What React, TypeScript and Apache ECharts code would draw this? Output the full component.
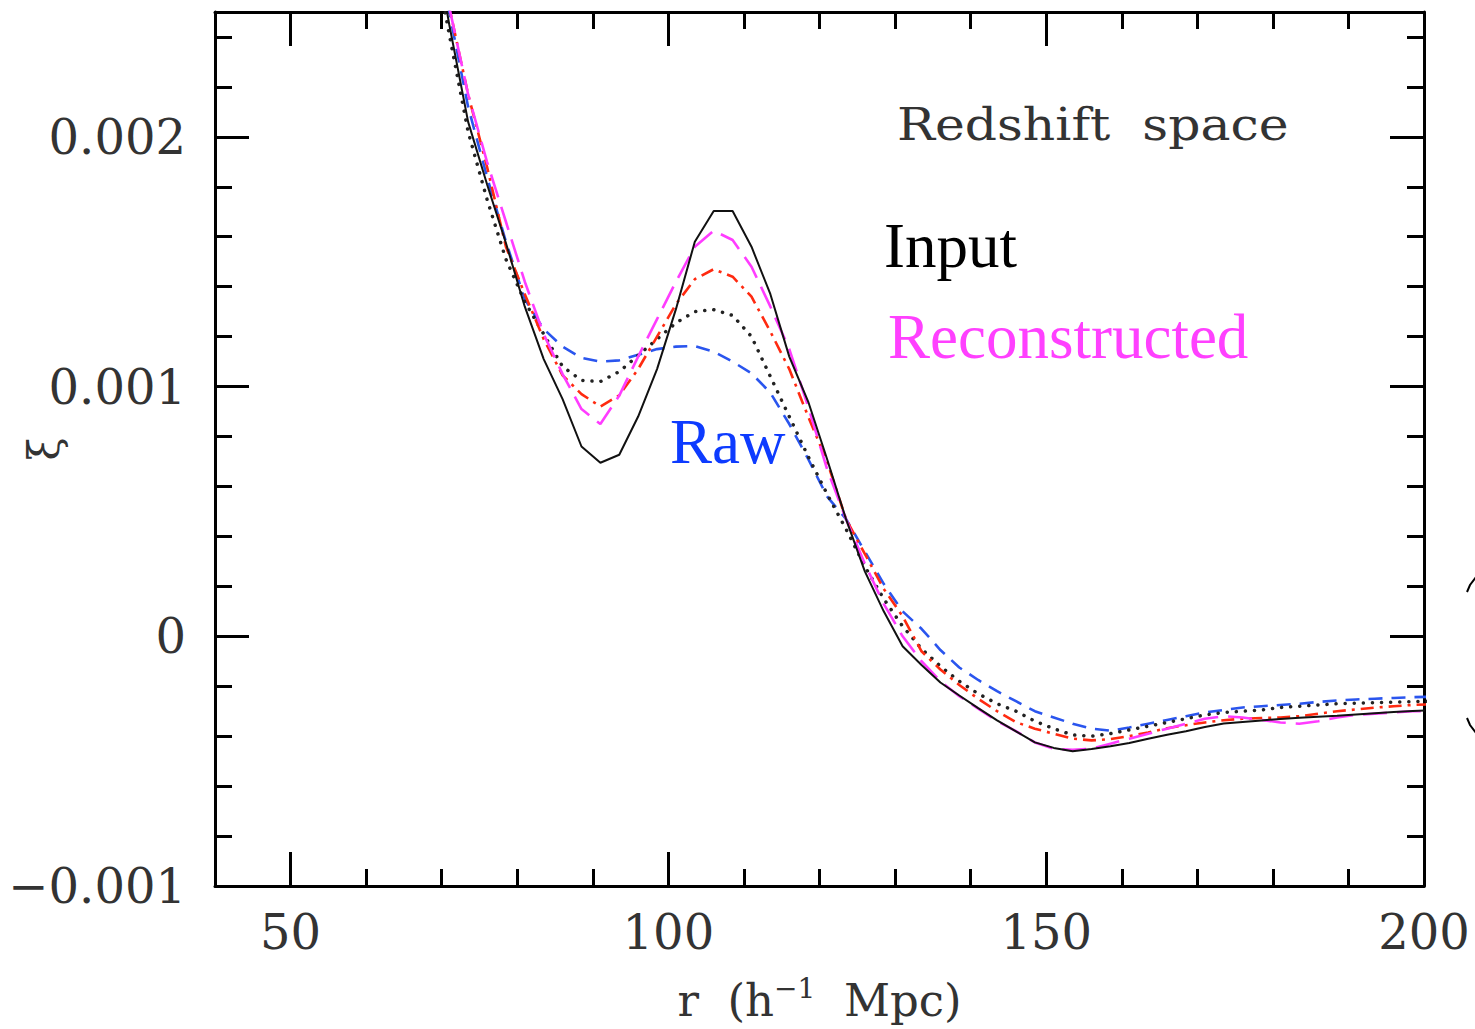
import React, { useEffect, useRef } from "react";
import * as echarts from "echarts";

// separation r (h^-1 Mpc)
const R_VALUES = [
  66, 68.5, 71, 73.5, 76, 78.5, 81, 83.5, 86, 88.5,
  91, 93.5, 96, 98.5, 101, 103.5, 106, 108.5, 111, 113.5,
  116, 118.5, 121, 123.5, 126, 128.5, 131, 133.5, 136, 138.5,
  141, 143.5, 146, 148.5, 151, 153.5, 156, 158.5, 161, 163.5,
  166, 168.5, 171, 173.5, 176, 178.5, 181, 183.5, 186, 188.5,
  191, 193.5, 196, 198.5, 201,
];

// correlation function values, in units of 1e-3
const XI_UNIT = 1e-3;
const INPUT_XI = [
  3.35, 2.88, 2.45, 2.06, 1.81, 1.575, 1.32, 1.11, 0.95, 0.76,
  0.695, 0.727, 0.88, 1.07, 1.31, 1.58, 1.703, 1.703, 1.56, 1.37,
  1.12, 0.94, 0.71, 0.47, 0.26, 0.1, -0.04, -0.115, -0.185, -0.237,
  -0.288, -0.337, -0.381, -0.425, -0.447, -0.46, -0.451, -0.44, -0.427, -0.41,
  -0.394, -0.38, -0.363, -0.349, -0.343, -0.337, -0.331, -0.326, -0.322, -0.318,
  -0.313, -0.308, -0.303, -0.299, -0.296,
];
const RECON_XI = [
  3.45, 2.98, 2.52, 2.17, 1.9, 1.66, 1.42, 1.21, 1.05, 0.91,
  0.85, 0.964, 1.12, 1.27, 1.42, 1.56, 1.624, 1.587, 1.48, 1.32,
  1.15, 0.92, 0.67, 0.47, 0.29, 0.13, 0.0, -0.1, -0.18, -0.24,
  -0.29, -0.34, -0.38, -0.425, -0.45, -0.455, -0.45, -0.43, -0.41, -0.39,
  -0.37, -0.35, -0.33, -0.32, -0.325, -0.335, -0.345, -0.35, -0.34, -0.325,
  -0.315, -0.31, -0.305, -0.3, -0.3,
];
const RECON_ALT_XI = [
  3.45, 2.98, 2.52, 2.17, 1.88, 1.56, 1.37, 1.19, 1.045, 0.97,
  0.92, 0.965, 1.07, 1.2, 1.33, 1.43, 1.47, 1.44, 1.36, 1.22,
  1.07, 0.88, 0.7, 0.47, 0.33, 0.19, 0.08, -0.06, -0.133, -0.195,
  -0.25, -0.3, -0.344, -0.37, -0.39, -0.41, -0.417, -0.412, -0.4, -0.385,
  -0.368, -0.356, -0.345, -0.336, -0.33, -0.327, -0.325, -0.32, -0.31, -0.3,
  -0.293, -0.286, -0.28, -0.275, -0.272,
];
const DOTTED_XI = [
  3.25, 2.82, 2.41, 2.02, 1.75, 1.51, 1.34, 1.21, 1.08, 1.025,
  1.02, 1.06, 1.125, 1.19, 1.255, 1.3, 1.308, 1.285, 1.2, 1.04,
  0.88, 0.72, 0.57, 0.43, 0.28, 0.15, 0.04, -0.05, -0.12, -0.18,
  -0.23, -0.27, -0.3, -0.34, -0.37, -0.395, -0.4, -0.39, -0.375, -0.36,
  -0.345, -0.33, -0.315, -0.305, -0.3, -0.295, -0.285, -0.28, -0.275, -0.27,
  -0.268, -0.266, -0.264, -0.262, -0.26,
];
const RAW_XI = [
  3.35, 2.93, 2.5, 2.12, 1.84, 1.58, 1.35, 1.23, 1.16, 1.115,
  1.1, 1.105, 1.127, 1.15, 1.16, 1.162, 1.14, 1.1, 1.053, 0.975,
  0.85, 0.71, 0.56, 0.47, 0.34, 0.21, 0.1, 0.03, -0.055, -0.125,
  -0.175, -0.22, -0.26, -0.3, -0.325, -0.35, -0.37, -0.378, -0.365, -0.35,
  -0.335, -0.32, -0.305, -0.295, -0.285, -0.28, -0.275, -0.27, -0.263, -0.257,
  -0.253, -0.25, -0.247, -0.244, -0.242,
];

const X_MAJOR = [50, 100, 150, 200];
const Y_MAJOR = [-0.001, 0, 0.001, 0.002];

const SERIF = "DejaVu Serif";
const TIMES = "Liberation Serif";

function pairs(vals: number[]) {
  return R_VALUES.map((r, i) => [r, vals[i] * XI_UNIT]);
}

function fmtY(v: number) {
  if (Math.abs(v) < 1e-12) return "0";
  const s = Math.abs(v).toFixed(3);
  return v < 0 ? "\u2212" + s : s;
}

export default function App() {
  const ref = useRef<HTMLDivElement>(null);
  useEffect(() => {
    if (!ref.current) return;
    const chart = echarts.init(ref.current, null, { renderer: "svg" });
    const axisLine = { show: true, onZero: false, lineStyle: { color: "#000", width: 3 } };
    const tickStyle = { color: "#000", width: 3 };
    const xBase = { type: "value", min: 40, max: 200, splitLine: { show: false } };
    const yBase = { type: "value", min: -0.001, max: 0.0025, splitLine: { show: false } };
    const option: any = {
      animation: false,
      backgroundColor: "#fff",
      grid: { left: 215, top: 12, width: 1209, height: 874, containLabel: false, outerBoundsMode: "none" },
      xAxis: [
        {
          ...xBase,
          position: "bottom",
          axisLine,
          axisTick: { show: true, inside: true, length: 34, customValues: X_MAJOR, lineStyle: tickStyle },
          axisLabel: {
            customValues: X_MAJOR,
            margin: 22,
            fontFamily: SERIF,
            fontSize: 48,
            color: "#333",
          },
          name: "r  (h{sup|\u22121}  Mpc)",
          nameLocation: "middle",
          nameGap: 88,
          nameMoveOverlap: false,
          nameTextStyle: {
            fontFamily: SERIF,
            fontSize: 45,
            color: "#333",
            rich: { sup: { fontFamily: SERIF, fontSize: 28, color: "#333", verticalAlign: "top", padding: [0, 0, 24, 0] } },
          },
        },
        {
          ...xBase,
          position: "bottom",
          interval: 10,
          axisLine: { show: false, onZero: false },
          axisTick: { show: true, inside: true, length: 17, lineStyle: tickStyle },
          axisLabel: { show: false },
        },
        {
          ...xBase,
          position: "top",
          axisLine,
          axisTick: { show: true, inside: true, length: 34, customValues: X_MAJOR, lineStyle: tickStyle },
          axisLabel: { show: false },
        },
        {
          ...xBase,
          position: "top",
          interval: 10,
          axisLine: { show: false, onZero: false },
          axisTick: { show: true, inside: true, length: 17, lineStyle: tickStyle },
          axisLabel: { show: false },
        },
      ],
      yAxis: [
        {
          ...yBase,
          position: "left",
          axisLine,
          axisTick: { show: true, inside: true, length: 34, customValues: Y_MAJOR, lineStyle: tickStyle },
          axisLabel: {
            customValues: Y_MAJOR,
            margin: 29,
            fontFamily: SERIF,
            fontSize: 48,
            color: "#333",
            formatter: (v: number) => fmtY(v),
          },
          name: "\u03be",
          nameLocation: "middle",
          nameGap: 150,
          nameMoveOverlap: false,
          nameTextStyle: { fontFamily: SERIF, fontSize: 42, color: "#333" },
        },
        {
          ...yBase,
          position: "left",
          interval: 0.0002,
          axisLine: { show: false, onZero: false },
          axisTick: { show: true, inside: true, length: 17, lineStyle: tickStyle },
          axisLabel: { show: false },
        },
        {
          ...yBase,
          position: "right",
          axisLine,
          axisTick: { show: true, inside: true, length: 34, customValues: Y_MAJOR, lineStyle: tickStyle },
          axisLabel: { show: false },
        },
        {
          ...yBase,
          position: "right",
          interval: 0.0002,
          axisLine: { show: false, onZero: false },
          axisTick: { show: true, inside: true, length: 17, lineStyle: tickStyle },
          axisLabel: { show: false },
        },
      ],
      series: [
        {
          name: "Raw",
          type: "line",
          data: pairs(RAW_XI),
          symbol: "none",
          clip: true,
          lineStyle: { color: "#2a55ee", width: 2.6, type: [14, 9] },
        },
        {
          name: "Dotted",
          type: "line",
          data: pairs(DOTTED_XI),
          symbol: "none",
          clip: true,
          lineStyle: { color: "#222", width: 3.5, type: [0.1, 9], cap: "round" },
        },
        {
          name: "Reconstructed (alt)",
          type: "line",
          data: pairs(RECON_ALT_XI),
          symbol: "none",
          clip: true,
          lineStyle: { color: "#ff2a10", width: 2.6, type: [13, 6, 3, 6] },
        },
        {
          name: "Reconstructed",
          type: "line",
          data: pairs(RECON_XI),
          symbol: "none",
          clip: true,
          lineStyle: { color: "#ff3cff", width: 2.6, type: [24, 10] },
        },
        {
          name: "Input",
          type: "line",
          data: pairs(INPUT_XI),
          symbol: "none",
          clip: true,
          lineStyle: { color: "#111", width: 2 },
        },
      ],
      graphic: [
        {
          type: "text",
          x: 897,
          y: 124,
          scaleX: 1.12,
          style: {
            text: "Redshift  space",
            fontFamily: SERIF,
            fontSize: 45,
            fill: "#333",
            textVerticalAlign: "middle",
          },
        },
        {
          type: "text",
          x: 884,
          y: 246,
          style: { text: "Input", fontFamily: TIMES, fontSize: 63, fill: "#000", textVerticalAlign: "middle" },
        },
        {
          type: "text",
          x: 888,
          y: 337,
          style: { text: "Reconstructed", fontFamily: TIMES, fontSize: 63, fill: "#ff40ff", textVerticalAlign: "middle" },
        },
        {
          type: "text",
          x: 670,
          y: 442,
          style: { text: "Raw", fontFamily: TIMES, fontSize: 63, fill: "#0d3bff", textVerticalAlign: "middle" },
        },
        {
          type: "polyline",
          shape: { points: [[1467, 592], [1470, 585], [1476, 577]] },
          style: { stroke: "#000", lineWidth: 2, fill: null },
        },
        {
          type: "polyline",
          shape: { points: [[1467, 718], [1470, 725], [1476, 733]] },
          style: { stroke: "#000", lineWidth: 2, fill: null },
        },
      ],
    };
    chart.setOption(option);
    return () => chart.dispose();
  }, []);
  return (
    <div
      ref={ref}
      style={{ position: "fixed", left: 0, top: 0, width: 1475, height: 1029, background: "#fff" }}
    />
  );
}
